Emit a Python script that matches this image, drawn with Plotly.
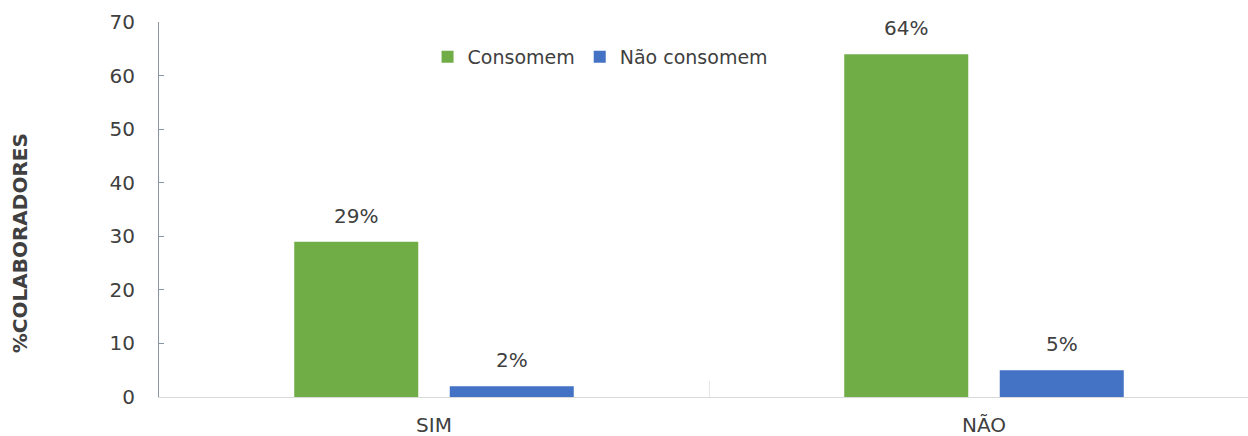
import plotly.graph_objects as go

categories = ["SIM", "NÃO"]
consomem = [29, 64]
nao_consomem = [2, 5]
series_names = ["Consomem", "Não consomem"]
y_ticks = [0, 10, 20, 30, 40, 50, 60, 70]

GREEN = "#70AD47"
BLUE = "#4472C4"
FONT = "DejaVu Sans"
TXT = "#404040"
BARGAP = 0.4345
GROUPGAP = 0.2026

fig = go.Figure()
fig.add_trace(go.Bar(x=categories, y=consomem, name=series_names[0], marker_color=GREEN,
                     marker_line_width=0))
fig.add_trace(go.Bar(x=categories, y=nao_consomem, name=series_names[1], marker_color=BLUE,
                     marker_line_width=0))

# data labels above bars
slot_px = 550 * (1 - BARGAP) / 2
for vals, shift in ((consomem, -slot_px / 2), (nao_consomem, slot_px / 2)):
    for c, v in zip(categories, vals):
        fig.add_annotation(x=c, y=v, xref="x", yref="y", text=f"{v}%", showarrow=False,
                           xshift=shift, yshift=26, yanchor="middle",
                           font=dict(family=FONT, size=20, color=TXT))

fig.add_annotation(x=0, y=0.41, xref="paper", yref="paper", text="<b>%COLABORADORES</b>",
                   textangle=-90, showarrow=False, xshift=-139, xanchor="center",
                   yanchor="middle", font=dict(family=FONT, size=20, color=TXT))

fig.update_layout(
    width=1248, height=436,
    margin=dict(l=159, r=0, t=22, b=39),
    paper_bgcolor="white", plot_bgcolor="white",
    barmode="group", bargap=BARGAP, bargroupgap=GROUPGAP,
    font=dict(family=FONT, size=20, color=TXT),
    legend=dict(orientation="h", x=0.2466, y=0.907, xanchor="left", yanchor="middle",
                font=dict(family=FONT, size=19, color=TXT), itemwidth=30,
                bgcolor="rgba(0,0,0,0)"),
    xaxis=dict(range=[-0.5, 1.48], showline=True, linecolor="#d9d9d9", linewidth=1,
               ticks="inside", tickson="boundaries", ticklen=16, tickcolor="#e6e6e6",
               showgrid=False, zeroline=False, ticklabelstandoff=10,
               tickfont=dict(family=FONT, size=20, color=TXT)),
    yaxis=dict(range=[0, 70], tickvals=y_ticks, showline=True, linecolor="#8a96a3",
               linewidth=1, ticks="inside", ticklen=5, tickcolor="#8a96a3",
               showgrid=False, zeroline=False, ticklabelstandoff=19,
               tickfont=dict(family=FONT, size=20, color=TXT)),
)

fig.write_html("out.html")
